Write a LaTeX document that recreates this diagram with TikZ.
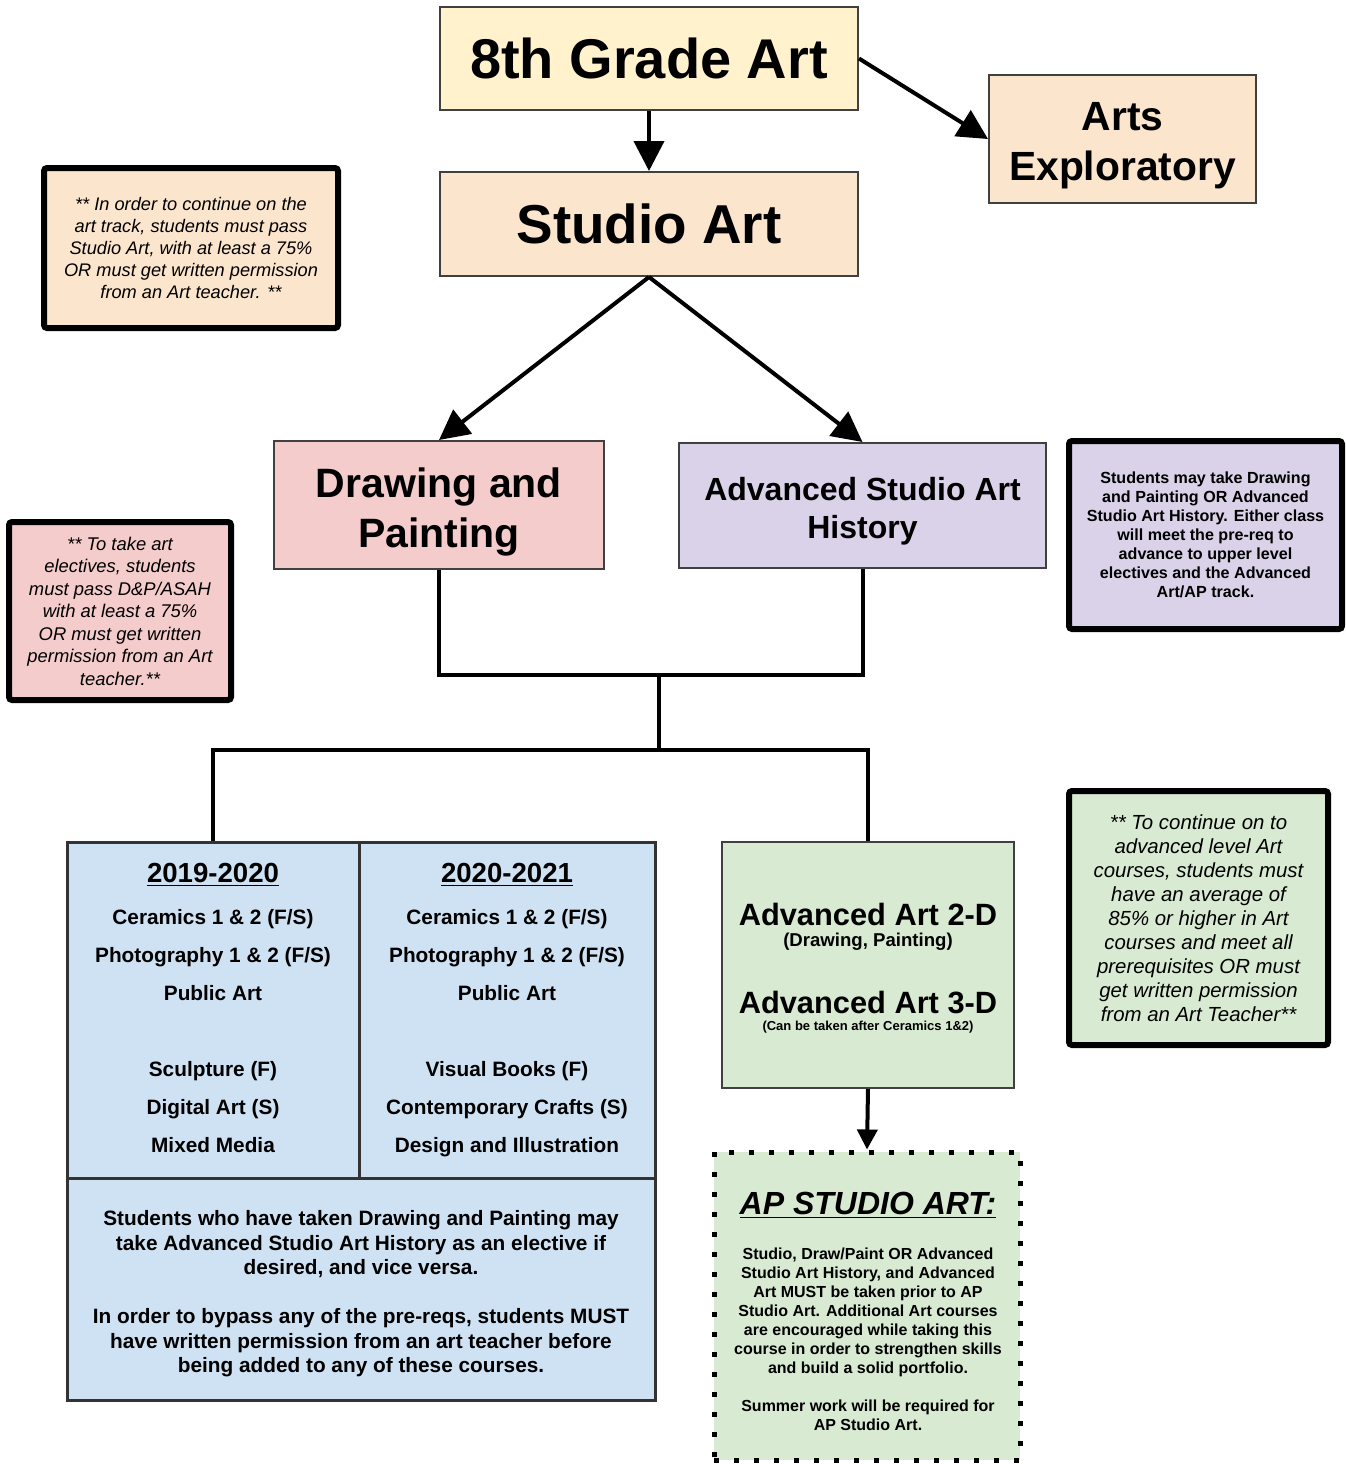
\documentclass[tikz,border=0pt]{standalone}
\usepackage{fontspec}
\setmainfont{Liberation Sans}
\usetikzlibrary{arrows.meta}
\definecolor{cyellow}{HTML}{FFF2CC}
\definecolor{cpeach}{HTML}{FCE5CD}
\definecolor{cpink}{HTML}{F4CCCC}
\definecolor{cpurple}{HTML}{D9D2E9}
\definecolor{cblue}{HTML}{CFE2F3}
\definecolor{cgreen}{HTML}{D9EAD3}
\begin{document}
\begin{tikzpicture}[x=0.5pt,y=-0.5pt,
  box/.style={draw=black!75, line width=1pt, inner sep=0pt, align=center},
  note/.style={draw=black, line width=3pt, inner sep=0pt, align=center, rounded corners=1.5pt},
  cell/.style={draw=black!80, line width=1.5pt, fill=cblue, inner sep=0pt},
  txt/.style={inner sep=0pt, align=center},
  conn/.style={line width=2pt, black},
  arr/.style={conn, -{Triangle[length=15pt,width=15pt]}},
]
\fill[white] (0,0) rectangle (1346,1464);
\useasboundingbox (0,0) rectangle (1346,1464);

% main boxes
\node[box, fill=cyellow, minimum width=209pt, minimum height=51.5pt, font=\bfseries\fontsize{28}{34}\selectfont] (grade) at (649,58.5) {8th Grade Art};
\node[box, fill=cpeach, minimum width=133.5pt, minimum height=64pt] (explor) at (1122.5,139) {};
\node[txt, font=\bfseries\fontsize{20.4}{25}\selectfont] (explort) at (1122.5,146) {Arts\\Exploratory};
\node[box, fill=cpeach, minimum width=209pt, minimum height=52pt, font=\bfseries\fontsize{27.4}{33}\selectfont] (studio) at (649,224) {Studio Art};
\node[box, fill=cpink, minimum width=165pt, minimum height=64pt] (dp) at (439,505) {};
\node[txt, font=\bfseries\fontsize{20.5}{25}\selectfont] (dpt) at (439,512) {Drawing and\\Painting};
\node[box, fill=cpurple, minimum width=183.5pt, minimum height=62.5pt] (asah) at (862.5,505.5) {};
\node[txt, font=\bfseries\fontsize{16}{19}\selectfont] (asaht) at (862.5,511) {Advanced Studio Art\\History};

% notes
\node[note, fill=cpeach, minimum width=147pt, minimum height=80pt, font=\itshape\fontsize{9.1}{11}\selectfont] (note1) at (191,248)
  {** In order to continue on the\\art track, students must pass\\Studio Art, with at least a 75\%\\OR must get written permission\\from an Art teacher. **};
\node[note, fill=cpink, minimum width=111pt, minimum height=89pt, font=\itshape\fontsize{9.2}{11.25}\selectfont] (note2) at (120,611)
  {** To take art\\electives, students\\must pass D\&P/ASAH\\with at least a 75\%\\OR must get written\\permission from an Art\\teacher.**};
\node[note, fill=cpurple, minimum width=136.5pt, minimum height=94pt, font=\bfseries\fontsize{8.05}{9.5}\selectfont] (note3) at (1205.5,535)
  {Students may take Drawing\\and Painting OR Advanced\\Studio Art History. Either class\\will meet the pre-req to\\advance to upper level\\electives and the Advanced\\Art/AP track.};
\node[note, fill=cgreen, minimum width=129.5pt, minimum height=127pt, font=\itshape\fontsize{10.2}{12}\selectfont] (note4) at (1198.5,918)
  {** To continue on to\\advanced level Art\\courses, students must\\have an average of\\85\% or higher in Art\\courses and meet all\\prerequisites OR must\\get written permission\\from an Art Teacher**};

% table
\node[cell, minimum width=146pt, minimum height=168pt] (c1) at (213,1010) {};
\node[cell, minimum width=148pt, minimum height=168pt] (c2) at (507,1010) {};
\node[cell, minimum width=294pt, minimum height=111pt] (c3) at (361,1289) {};
\node[txt, font=\bfseries\fontsize{10.4}{19}\selectfont] (c1t) at (213,1010)
  {{\fontsize{13.8}{19}\selectfont\underline{2019-2020}}\\[2pt]
   Ceramics 1 \& 2 (F/S)\\Photography 1 \& 2 (F/S)\\Public Art\\[19pt]
   Sculpture (F)\\Digital Art (S)\\Mixed Media\vphantom{g}};
\node[txt, font=\bfseries\fontsize{10.4}{19}\selectfont] (c2t) at (507,1010)
  {{\fontsize{13.8}{19}\selectfont\underline{2020-2021}}\\[2pt]
   Ceramics 1 \& 2 (F/S)\\Photography 1 \& 2 (F/S)\\Public Art\\[19pt]
   Visual Books (F)\\Contemporary Crafts (S)\\Design and Illustration};
\node[txt, font=\bfseries\fontsize{10.4}{12.25}\selectfont] (c3t) at (361,1294)
  {Students who have taken Drawing and Painting may\\take Advanced Studio Art History as an elective if\\desired, and vice versa.\\[12.25pt]
   In order to bypass any of the pre-reqs, students MUST\\have written permission from an art teacher before\\being added to any of these courses.};

% advanced art
\node[box, fill=cgreen, minimum width=146pt, minimum height=123pt] (adv) at (868,965) {};
\node[txt, font=\bfseries\fontsize{15.4}{18}\selectfont] (a2) at (868,914) {Advanced Art 2-D};
\node[txt, font=\bfseries\fontsize{9.3}{11}\selectfont] (a2s) at (868,942) {(Drawing, Painting)};
\node[txt, font=\bfseries\fontsize{15.4}{18}\selectfont] (a3) at (868,1002) {Advanced Art 3-D};
\node[txt, font=\bfseries\fontsize{6.5}{8}\selectfont] (a3s) at (868,1027) {(Can be taken after Ceramics 1\&2)};

% AP studio art
\node[draw=black, line width=2.5pt, dash pattern=on 2.5pt off 7.5pt, fill=cgreen, minimum width=153pt, minimum height=154pt, inner sep=0pt] (ap) at (867,1306) {};
\node[txt, font=\bfseries\itshape\fontsize{16}{19}\selectfont] (aptitle) at (868,1205) {\underline{AP STUDIO ART:}};
\node[txt, font=\bfseries\fontsize{8}{9.5}\selectfont] (apbody) at (868,1339)
  {Studio, Draw/Paint OR Advanced\\Studio Art History, and Advanced\\Art MUST be taken prior to AP\\Studio Art. Additional Art courses\\are encouraged while taking this\\course in order to strengthen skills\\and build a solid portfolio.\\[9.5pt]
   Summer work will be required for\\AP Studio Art.};

% connectors
\draw[arr] (grade.south) -- (studio.north);
\draw[arr] (grade.east) -- (explor.west);
\draw[arr] (studio.south) -- (dp.north);
\draw[arr] (studio.south) -- (asah.north);
\coordinate (j1) at (659,675);
\coordinate (j2) at (659,750);
\draw[conn] (dp.south) |- (j1) -| (asah.south);
\draw[conn] (j1) -- (j2);
\draw[conn] (c1.north) |- (j2) -| (adv.north);
\draw[conn, -{Triangle[length=10pt,width=10pt]}] (adv.south) -- (ap.north);
\end{tikzpicture}
\end{document}
